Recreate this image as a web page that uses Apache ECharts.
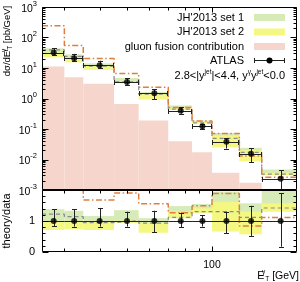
<!DOCTYPE html>
<html><head><meta charset="utf-8">
<script src="https://cdn.jsdelivr.net/npm/echarts@6/dist/echarts.min.js"></script>
<style>html,body{margin:0;padding:0;background:#fff}#c{width:300px;height:282px}</style>
</head><body><div id="c"></div>
<script>
// ---- data ----
const binEdges = [25, 30, 35, 45, 55, 70, 85, 100, 125, 150, 200];
const binCenters = [27.5, 32.5, 40, 50, 62.5, 77.5, 92.5, 112.5, 137.5, 175];
const atlasData = [32, 21, 12.2, 3.5, 1.49, 0.40, 0.122, 0.038, 0.0154, 0.00234];
const atlasErrUp = [0.38, 0.38, 0.42, 0.30, 0.33, 0.27, 0.19, 0.30, 0.49, 0.89];   // relative
const atlasErrDn = [0.16, 0.18, 0.18, 0.18, 0.37, 0.20, 0.18, 0.40, 0.48, 0.83];   // relative
const set1RatioLo = [0.95, 0.95, 0.90, 0.97, 0.90, 1.09, 1.30, 1.50, 1.20, 1.50];
const set1RatioHi = [1.38, 1.33, 1.16, 1.35, 1.09, 1.48, 1.55, 1.95, 1.57, 2.00];
const set2RatioLo = [0.71, 0.73, 0.71, 0.94, 0.62, 1.09, 1.26, 0.66, 0.57, 1.30];
const set2RatioHi = [1.00, 1.00, 0.97, 1.01, 0.95, 1.30, 1.41, 1.62, 1.30, 1.57];
const centralRatio = [1.22, 1.14, 0.95, 1.01, 0.93, 1.12, 1.30, 1.30, 1.12, 1.42];
const otherPredRatio = [7.6, 2.6, 1.68, 1.90, 1.56, 1.27, 1.49, 1.89, 0.84, 1.11];
const gluonFusion = [11.2, 5.0, 3.05, 0.66, 0.19, 0.0396, 0.0173, 0.00367, 0.00173, null];
const xTickLabels = [100];
const xMinorTicks = [30, 40, 50, 60, 70, 80, 90];
const mainYMajor = [0.001, 0.01, 0.1, 1, 10, 100, 1000];
const ratioYMajor = [0, 1, 2];
const ratioYMinor = [0.2, 0.4, 0.6, 0.8, 1.2, 1.4, 1.6, 1.8];

// ---- styling ----
const FONT = '"Liberation Sans", Arial, Helvetica, sans-serif';
const C_GREEN = '#d6ebb8', C_YELLOW = '#f4f782', C_PINK = '#f6d6cc', C_ORANGE = '#e07f3c', C_GREY = '#8a8a8a';
const nb = atlasData.length;
const toAbs = arr => arr.map((r, i) => r == null ? null : r * atlasData[i]);
const ones = atlasData.map(v => v / v);

function bandSeries(xi, yi, lo, hi, color, z) {
  const data = [];
  lo.forEach((l, i) => { if (l != null && hi[i] != null) data.push([binEdges[i], binEdges[i + 1], l, hi[i]]); });
  return {
    type: 'custom', xAxisIndex: xi, yAxisIndex: yi, clip: true, silent: true, z: z,
    data: data, encode: { x: [0, 1], y: [2, 3] },
    renderItem(params, api) {
      const a = api.coord([api.value(0), api.value(3)]);
      const b = api.coord([api.value(1), api.value(2)]);
      return { type: 'rect', shape: { x: a[0], y: a[1], width: b[0] - a[0], height: b[1] - a[1] }, style: { fill: color } };
    }
  };
}
function stepSeries(xi, yi, vals, color, width, dash, z) {
  const d = vals.map((v, i) => [binEdges[i], v]);
  d.push([binEdges[nb], vals[nb - 1]]);
  return {
    type: 'line', xAxisIndex: xi, yAxisIndex: yi, step: 'end', data: d, showSymbol: false, symbol: 'none',
    silent: true, clip: true, z: z, lineStyle: { color: color, width: width, type: dash }
  };
}
function errSeries(xi, yi, vals, lo, hi, caps) {
  const data = vals.map((v, i) => [binCenters[i], v, lo[i], hi[i], binEdges[i], binEdges[i + 1]]);
  return {
    type: 'custom', xAxisIndex: xi, yAxisIndex: yi, clip: true, silent: true, z: 6,
    data: data, encode: { x: 0, y: 1 },
    renderItem(params, api) {
      const c = api.coord([api.value(0), api.value(1)]);
      const l = api.coord([api.value(0), api.value(2)]);
      const h = api.coord([api.value(0), api.value(3)]);
      const L = api.coord([api.value(4), api.value(1)]);
      const H = api.coord([api.value(5), api.value(1)]);
      const st = { stroke: '#222', lineWidth: 1 };
      const x = Math.round(c[0]) + 0.5, y = Math.round(c[1]) + 0.5;
      const ch = [
        { type: 'line', shape: { x1: x, y1: l[1], x2: x, y2: h[1] }, style: st },
        { type: 'line', shape: { x1: x - 2.5, y1: Math.round(l[1]) + 0.5, x2: x + 2.5, y2: Math.round(l[1]) + 0.5 }, style: st },
        { type: 'line', shape: { x1: x - 2.5, y1: Math.round(h[1]) + 0.5, x2: x + 2.5, y2: Math.round(h[1]) + 0.5 }, style: st },
        { type: 'line', shape: { x1: L[0], y1: y, x2: H[0], y2: y }, style: st }
      ];
      if (caps) {
        ch.push({ type: 'line', shape: { x1: Math.round(L[0]) + 0.5, y1: y - 2.5, x2: Math.round(L[0]) + 0.5, y2: y + 2.5 }, style: st });
        ch.push({ type: 'line', shape: { x1: Math.round(H[0]) - 0.5, y1: y - 2.5, x2: Math.round(H[0]) - 0.5, y2: y + 2.5 }, style: st });
      }
      return { type: 'group', children: ch };
    }
  };
}
function pointSeries(xi, yi, vals) {
  return {
    type: 'scatter', xAxisIndex: xi, yAxisIndex: yi, silent: true, z: 7,
    data: vals.map((v, i) => [binCenters[i], v]), symbol: 'circle', symbolSize: 6,
    itemStyle: { color: '#000' }
  };
}
function frameSeries(xi, yi, yRef, yMajor, yMinor, topX, bottomX) {
  return {
    type: 'custom', xAxisIndex: xi, yAxisIndex: yi, silent: true, clip: false, z: 10,
    data: [[100, yRef]], encode: { x: 0, y: 1 },
    renderItem(params, api) {
      const cs = params.coordSys;
      const X0 = cs.x + 0.5, X1 = cs.x + cs.width - 0.5, Y0 = cs.y + 0.5, Y1 = cs.y + cs.height - 0.5;
      const st = { stroke: '#000', lineWidth: 1 };
      const ch = [{ type: 'rect', shape: { x: X0, y: Y0, width: X1 - X0, height: Y1 - Y0 }, style: { stroke: '#000', fill: null, lineWidth: 1 } }];
      const ln = (x1, y1, x2, y2) => ch.push({ type: 'line', shape: { x1, y1, x2, y2 }, style: st });
      const xt = (v, len) => {
        const x = Math.round(api.coord([v, yRef])[0]) + 0.5;
        if (topX) ln(x, Y0, x, Y0 + len);
        if (bottomX) ln(x, Y1, x, Y1 - len);
      };
      xTickLabels.forEach(v => xt(v, 5));
      xMinorTicks.forEach(v => xt(v, 3));
      const yt = (v, len) => {
        const y = Math.round(api.coord([100, v])[1]) + 0.5;
        ln(X0, y, X0 + len, y);
        ln(X1, y, X1 - len, y);
      };
      yMajor.forEach(v => yt(v, 6));
      yMinor.forEach(v => yt(v, 3));
      return { type: 'group', children: ch };
    }
  };
}
const mainYMinor = [];
mainYMajor.slice(0, -1).forEach(d => { for (let k = 2; k <= 9; k++) mainYMinor.push(k * d); });

const chart = echarts.init(document.getElementById('c'), null, { renderer: 'canvas', width: 300, height: 282 });
const lbl = { color: '#000', fontFamily: FONT };
const option = {
  animation: false,
  backgroundColor: '#fff',
  textStyle: { fontFamily: FONT },
  grid: [
    { left: 42, top: 7, width: 255, height: 183, show: false, containLabel: false, outerBoundsMode: 'none' },
    { left: 42, top: 190, width: 255, height: 62, show: false, containLabel: false, outerBoundsMode: 'none' }
  ],
  xAxis: [
    { type: 'log', gridIndex: 0, min: 25, max: 200, logBase: 10, axisLine: { show: false }, axisTick: { show: false },
      axisLabel: { show: false }, splitLine: { show: false } },
    { type: 'log', gridIndex: 1, min: 25, max: 200, logBase: 10, axisLine: { show: false }, axisTick: { show: false },
      splitLine: { show: false },
      axisLabel: Object.assign({ margin: 8, fontSize: 10.5, hideOverlap: false,
        formatter: v => { const t = xTickLabels.find(t => Math.abs(t - v) < 1e-6); return t != null ? String(t) : ''; } }, lbl) }
  ],
  yAxis: [
    { type: 'log', gridIndex: 0, min: 1e-3, max: 1e3, logBase: 10, splitNumber: 6, axisLine: { show: false }, axisTick: { show: false },
      splitLine: { show: false },
      axisLabel: { margin: 5, hideOverlap: false,
        formatter: v => '{b|10}{s|' + Math.round(Math.log10(v)) + '}',
        rich: { b: Object.assign({ fontSize: 10.5, lineHeight: 15, verticalAlign: 'bottom' }, lbl),
                s: Object.assign({ fontSize: 7.5, lineHeight: 8, verticalAlign: 'top' }, lbl) } } },
    { type: 'value', gridIndex: 1, min: 0, max: 2, interval: 1, axisLine: { show: false }, axisTick: { show: false },
      splitLine: { show: false },
      axisLabel: Object.assign({ margin: 7, fontSize: 11, hideOverlap: false,
        formatter: v => (v === 0 || v === 1) ? String(v) : '' }, lbl) }
  ],
  graphic: [
    { type: 'text', x: 7, y: 41, rotation: Math.PI / 2, silent: true,
      style: { text: '{n|dσ/dE}{s|γ}{t|T}{n| [pb/GeV]}', align: 'center', verticalAlign: 'middle',
        rich: { n: Object.assign({ fontSize: 9.5, lineHeight: 13, verticalAlign: 'middle' }, lbl),
                s: Object.assign({ fontSize: 6.5, lineHeight: 6.5, verticalAlign: 'top', width: 1 }, lbl),
                t: Object.assign({ fontSize: 6.5, lineHeight: 6.5, verticalAlign: 'bottom' }, lbl) } } },
    { type: 'text', x: 7, y: 221, rotation: Math.PI / 2, silent: true,
      style: { text: 'theory/data', fontSize: 11, fontFamily: FONT, fill: '#000', align: 'center', verticalAlign: 'middle' } },
    { type: 'text', x: 299, y: 276, silent: true,
      style: { text: '{n|E}{s|γ}{t|T}{n| [GeV]}', align: 'right', verticalAlign: 'middle',
        rich: { n: Object.assign({ fontSize: 10.5, lineHeight: 14, verticalAlign: 'middle' }, lbl),
                s: Object.assign({ fontSize: 6.5, lineHeight: 6.5, verticalAlign: 'top', width: 1 }, lbl),
                t: Object.assign({ fontSize: 6.5, lineHeight: 6.5, verticalAlign: 'bottom' }, lbl) } } },
    // legend
    { type: 'text', x: 244, y: 17.5, silent: true, style: { text: "JH'2013 set 1", fontSize: 11, fontFamily: FONT, fill: '#000', align: 'right', verticalAlign: 'middle' } },
    { type: 'rect', silent: true, shape: { x: 254, y: 14, width: 31, height: 7 }, style: { fill: C_GREEN } },
    { type: 'text', x: 244, y: 32, silent: true, style: { text: "JH'2013 set 2", fontSize: 11, fontFamily: FONT, fill: '#000', align: 'right', verticalAlign: 'middle' } },
    { type: 'rect', silent: true, shape: { x: 254, y: 28.5, width: 31, height: 7 }, style: { fill: C_YELLOW } },
    { type: 'text', x: 244, y: 46.5, silent: true, style: { text: 'gluon fusion contribution', fontSize: 11, fontFamily: FONT, fill: '#000', align: 'right', verticalAlign: 'middle' } },
    { type: 'rect', silent: true, shape: { x: 254, y: 43, width: 31, height: 7 }, style: { fill: C_PINK } },
    { type: 'text', x: 244, y: 61, silent: true, style: { text: 'ATLAS', fontSize: 11, fontFamily: FONT, fill: '#000', align: 'right', verticalAlign: 'middle' } },
    { type: 'line', silent: true, shape: { x1: 254, y1: 60.5, x2: 285, y2: 60.5 }, style: { stroke: '#222', lineWidth: 1 } },
    { type: 'line', silent: true, shape: { x1: 254.5, y1: 58, x2: 254.5, y2: 63 }, style: { stroke: '#222', lineWidth: 1 } },
    { type: 'line', silent: true, shape: { x1: 284.5, y1: 58, x2: 284.5, y2: 63 }, style: { stroke: '#222', lineWidth: 1 } },
    { type: 'circle', silent: true, shape: { cx: 269.5, cy: 60.5, r: 3 }, style: { fill: '#000' } },
    { type: 'text', x: 285, y: 75.5, silent: true,
      style: { text: '{n|2.8<|y}{s|jet}{n||<4.4, y}{s|γ}{n|y}{s|jet}{n|<0.0}', align: 'right', verticalAlign: 'middle',
        rich: { n: Object.assign({ fontSize: 11, lineHeight: 14, verticalAlign: 'middle' }, lbl),
                s: Object.assign({ fontSize: 6.5, lineHeight: 7, verticalAlign: 'top' }, lbl) } } }
  ],
  series: [
    // main panel
    bandSeries(0, 0, gluonFusion.map(v => v == null ? null : 1e-3), gluonFusion, C_PINK, 1),
    bandSeries(0, 0, toAbs(set1RatioLo), toAbs(set1RatioHi), C_GREEN, 2),
    bandSeries(0, 0, toAbs(set2RatioLo), toAbs(set2RatioHi), C_YELLOW, 3),
    stepSeries(0, 0, toAbs(centralRatio), C_GREY, 1.2, [4, 3], 4),
    stepSeries(0, 0, toAbs(otherPredRatio), C_ORANGE, 1.5, [6, 2.5, 1.5, 2.5], 5),
    errSeries(0, 0, atlasData, atlasData.map((v, i) => v * (1 - atlasErrDn[i])), atlasData.map((v, i) => v * (1 + atlasErrUp[i])), true),
    pointSeries(0, 0, atlasData),
    frameSeries(0, 0, 1, mainYMajor, mainYMinor, true, false),
    // ratio panel
    bandSeries(1, 1, set1RatioLo, set1RatioHi, C_GREEN, 2),
    bandSeries(1, 1, set2RatioLo, set2RatioHi, C_YELLOW, 3),
    stepSeries(1, 1, centralRatio, C_GREY, 1.2, [4, 3], 4),
    stepSeries(1, 1, otherPredRatio, C_ORANGE, 1.5, [6, 2.5, 1.5, 2.5], 5),
    errSeries(1, 1, ones, ones.map((v, i) => v - atlasErrDn[i]), ones.map((v, i) => v + atlasErrUp[i]), false),
    pointSeries(1, 1, ones),
    frameSeries(1, 1, 1, ratioYMajor, ratioYMinor, true, true)
  ]
};
chart.setOption(option);
</script>
</body></html>
